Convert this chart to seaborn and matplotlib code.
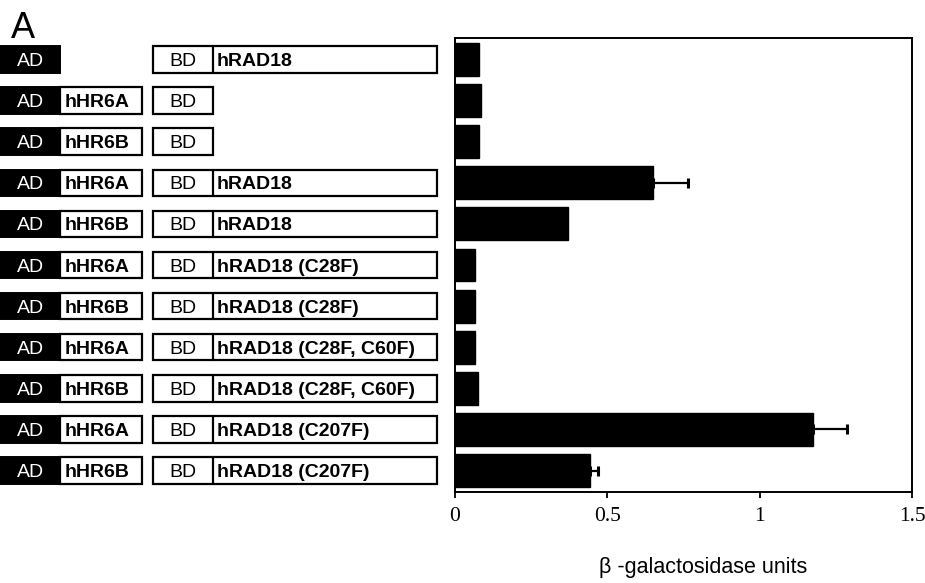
import matplotlib
matplotlib.use("Agg")
import matplotlib.pyplot as plt
from matplotlib.patches import Rectangle
import seaborn as sns
import pandas as pd

# ---- data ----
ad_fusion = ["", "hHR6A", "hHR6B", "hHR6A", "hHR6B", "hHR6A", "hHR6B",
             "hHR6A", "hHR6B", "hHR6A", "hHR6B"]
bd_fusion = ["hRAD18", "", "", "hRAD18", "hRAD18", "hRAD18 (C28F)", "hRAD18 (C28F)",
             "hRAD18 (C28F, C60F)", "hRAD18 (C28F, C60F)", "hRAD18 (C207F)", "hRAD18 (C207F)"]
activity = [0.080, 0.086, 0.080, 0.650, 0.370, 0.067, 0.066, 0.067, 0.075, 1.175, 0.443]
error = [0, 0, 0, 0.114, 0, 0, 0, 0, 0, 0.112, 0.028]
x_ticks = [0, 0.5, 1, 1.5]
x_tick_labels = ["0", "0.5", "1", "1.5"]
x_label = "\u03b2 -galactosidase units"
panel_label = "A"

sns.set_theme(style="white")
plt.rcParams["font.family"] = ["Liberation Sans", "DejaVu Sans"]

labels = [f"{i}: AD-{a} / BD-{b}" for i, (a, b) in enumerate(zip(ad_fusion, bd_fusion))]
df = pd.DataFrame({"construct": labels, "activity": activity, "error": error})

W, H = 925, 583
fig = plt.figure(figsize=(W / 100, H / 100), dpi=100)
ax_l, ax_r, ax_b, ax_t = 455, 912, 492, 38
ax = fig.add_axes([ax_l / W, (H - ax_b) / H, (ax_r - ax_l) / W, (ax_b - ax_t) / H])

sns.barplot(data=df, y="construct", x="activity", order=labels, color="black",
            width=0.8, orient="h", errorbar=None, ax=ax, edgecolor="black",
            linewidth=1, saturation=1)

for i, (v, e) in enumerate(zip(activity, error)):
    if e > 0:
        ax.errorbar(v, i, xerr=[[0], [e]], fmt="none", ecolor="black",
                    elinewidth=1.6, capsize=3.8, capthick=2.2)

ax.set_ylim(10.52, -0.52)
ax.set_xlim(0, 1.5)
ax.set_xticks(x_ticks)
ax.set_xticklabels(x_tick_labels, family=["Liberation Serif", "DejaVu Serif"], fontsize=15.5)
ax.set_yticks([])
ax.set_ylabel("")
ax.set_xlabel("")
ax.tick_params(axis="x", direction="out", length=4, width=1.3, bottom=True, pad=7, colors="black")
for s in ax.spines.values():
    s.set_visible(True)
    s.set_color("black")
    s.set_linewidth(1.4)

fig.text(703 / W, 1 - 568 / H, x_label, ha="center", va="center", fontsize=15.5, color="black")
fig.text(11 / W, 1 - 25 / H, panel_label, ha="left", va="center_baseline", fontsize=26, color="black")

# ---- construct diagrams on the left, sharing the rows ----
axd = fig.add_axes([0, (H - ax_b) / H, ax_l / W, (ax_b - ax_t) / H], sharey=ax)
axd.set_xlim(0, ax_l)
axd.axis("off")
bh = 0.64
fs_b = 14
fs_r = 14
va = "center_baseline"
for i, (a, b) in enumerate(zip(ad_fusion, bd_fusion)):
    y0 = i - bh / 2
    axd.add_patch(Rectangle((0, y0), 60, bh, facecolor="black", edgecolor="black", lw=1.4))
    axd.text(31, i, "AD", color="white", ha="center", va=va, fontsize=fs_r)
    if a:
        axd.add_patch(Rectangle((60, y0), 82, bh, facecolor="white", edgecolor="black", lw=1.6))
        axd.text(65, i, a, color="black", ha="left", va=va, fontsize=fs_b, fontweight="bold")
    bd_right = 437 if b else 213
    axd.add_patch(Rectangle((153, y0), bd_right - 153, bh, facecolor="white", edgecolor="black", lw=1.6))
    axd.text(183, i, "BD", color="black", ha="center", va=va, fontsize=fs_r)
    if b:
        axd.plot([213, 213], [y0, y0 + bh], color="black", lw=1.6)
        axd.text(217, i, b, color="black", ha="left", va=va, fontsize=fs_b, fontweight="bold")

fig.savefig("out.png", dpi=100)
